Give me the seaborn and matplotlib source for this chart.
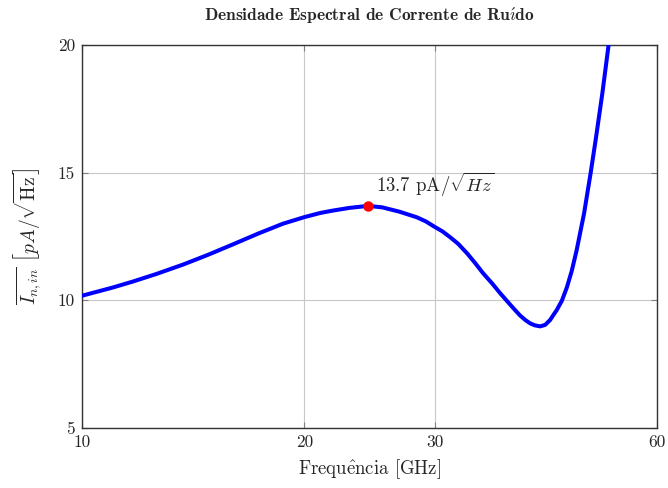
import matplotlib
matplotlib.use("Agg")
import matplotlib.pyplot as plt
import numpy as np
import pandas as pd
import seaborn as sns

# Input-referred noise current density vs. frequency
freq_ghz = [10.0, 11.0, 11.7, 12.6, 13.7, 14.8, 16.0, 17.3, 18.7, 20.0,
            21.0, 21.8, 23.0, 24.4, 25.5, 26.9, 28.4, 29.2, 30.0, 30.75,
            31.5, 32.3, 33.2, 34.0, 34.9, 35.9, 36.8, 37.95, 38.55, 39.15,
            39.8, 40.4, 41.0, 41.7, 42.35, 43.0, 43.5, 43.9, 44.6, 45.3,
            46.0, 46.7, 47.8, 48.8, 49.6, 50.6, 51.6, 52.5]
noise_pa = [10.18, 10.50, 10.73, 11.03, 11.40, 11.78, 12.19, 12.61, 13.00, 13.26,
            13.42, 13.51, 13.62, 13.70, 13.64, 13.47, 13.25, 13.09, 12.88, 12.70,
            12.47, 12.21, 11.84, 11.48, 11.06, 10.66, 10.28, 9.84, 9.62, 9.41,
            9.23, 9.10, 9.02, 8.98, 9.04, 9.23, 9.45, 9.62, 9.98, 10.50,
            11.15, 11.95, 13.40, 15.00, 16.35, 18.10, 20.00, 21.70]

x_ticks = [10, 20, 30, 60]
y_ticks = [5, 10, 15, 20]

sns.set_style("white")
plt.rcParams["font.family"] = ["cmr10", "DejaVu Serif"]
plt.rcParams["mathtext.fontset"] = "cm"
plt.rcParams["axes.formatter.use_mathtext"] = True
plt.rcParams["axes.unicode_minus"] = False

df = pd.DataFrame({"f": freq_ghz, "i": noise_pa})

fig = plt.figure(figsize=(6.68, 4.88), dpi=100)
ax = fig.add_axes([82 / 668, 1 - 428 / 488, (657 - 82) / 668, (428 - 45) / 488])

line_kw = dict(solid_joinstyle="round", solid_capstyle="round")
sns.lineplot(data=df, x="f", y="i", ax=ax, color="#0000ff", linewidth=2.9,
             estimator=None, zorder=3, **line_kw)

ax.set_xscale("log")
ax.set_xlim(10, 60)
ax.set_ylim(5, 20)
ax.set_xticks(x_ticks)
ax.set_xticklabels([str(t) for t in x_ticks])
ax.xaxis.set_minor_locator(matplotlib.ticker.NullLocator())
ax.set_yticks(y_ticks)
ax.set_yticklabels([str(t) for t in y_ticks])

ax.grid(True, color="#c8c8c8", linewidth=0.8)
ax.tick_params(axis="both", which="major", direction="in", length=4,
               color="#808080", labelsize=12.5, pad=5,
               top=True, right=True, bottom=True, left=True)
for s in ax.spines.values():
    s.set_color("#333333")
    s.set_linewidth(1.0)

# peak marker and its label
k = int(np.argmax(noise_pa[:30]))
pf, pv = freq_ghz[k], noise_pa[k]
ax.plot([pf], [pv], "o", color="#ff0000", markersize=6.5, zorder=4)
ax.annotate(f"{pv:.1f} pA/" + r"$\sqrt{Hz}$", xy=(pf, pv), xytext=(5.5, 10),
            textcoords="offset points", ha="left", va="baseline", fontsize=13.5)

ax.set_xlabel(r"Frequ$\hat{\mathrm{e}}$ncia [GHz]", fontsize=13.5, labelpad=5)
ax.set_ylabel(r"$\overline{I_{n,in}}\ \left[pA/\sqrt{\mathrm{Hz}}\right]$",
              fontsize=14, labelpad=10)
ax.set_title(r"Densidade Espectral de Corrente de Ru$\mathbf{\acute{\imath}}$do",
             fontsize=12.5, family=["cmb10", "DejaVu Serif"], pad=17)

fig.savefig("out.png", dpi=100)
